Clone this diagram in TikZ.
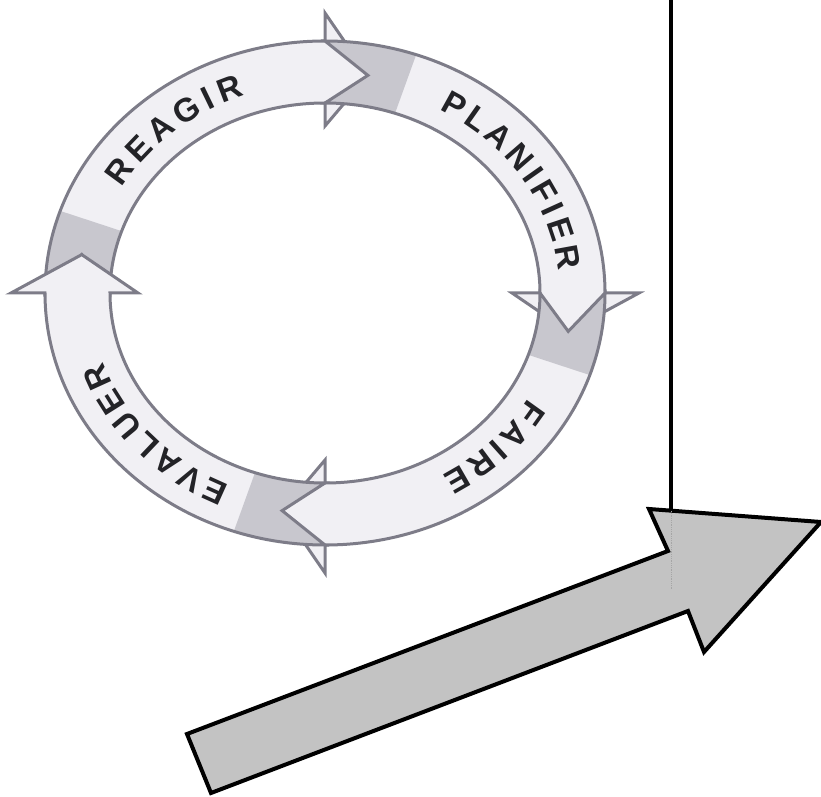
\documentclass[tikz,border=0pt]{standalone}
\usepackage{fontspec}
\setmainfont{Liberation Sans}
\usetikzlibrary{calc,decorations.text}
\definecolor{RingFill}{HTML}{F1F0F4}
\definecolor{RingShade}{HTML}{C8C7CE}
\definecolor{RingLine}{HTML}{7D7C88}
\definecolor{WordInk}{HTML}{232327}
\definecolor{TrendFill}{HTML}{C3C3C3}
% one curved arrow of the cycle, tail at angle #1, head 90 degrees further clockwise
\newcommand\cyclearrow[1]{($(c)+(#1:280pt and 252pt)$) arc[start angle=#1,end angle=#1-90,x radius=280pt,y radius=252pt]
  -- ($(c)+(#1-90:314pt and 280pt)$) -- ($(c)+(#1-100:247pt and 221pt)$) -- ($(c)+(#1-90:187pt and 167pt)$)
  -- ($(c)+(#1-90:215pt and 190pt)$) arc[start angle=#1-90,end angle=#1,x radius=215pt,y radius=190pt]
  -- ($(c)+(#1-10:247pt and 221pt)$) -- cycle}
\newcommand\cycletail[1]{($(c)+(#1:280pt and 252pt)$) arc[start angle=#1,end angle=#1-19,x radius=280pt,y radius=252pt]
  -- ($(c)+(#1-19:215pt and 190pt)$) arc[start angle=#1-19,end angle=#1,x radius=215pt,y radius=190pt]
  -- ($(c)+(#1-10:247pt and 221pt)$) -- cycle}
\tikzset{
  ringword/.style={decorate,decoration={text along path,text align=fit to path,
    text={|\fontsize{33}{33}\selectfont\bfseries\color{WordInk}|#1}}}
}

\begin{document}
\begin{tikzpicture}[x=1pt,y=1pt]
\useasboundingbox (0,0) rectangle (821,796);
\coordinate (c) at (325,503);
\foreach \a in {180,90,0,-90}{
  \fill[RingFill] \cyclearrow{\a};
  \fill[RingShade] \cycletail{\a};
  \draw[RingLine,line width=3pt] \cyclearrow{\a};
}
\path[ringword=REAGIR] ($(c)+(150:235pt and 210pt)$) arc[start angle=150,end angle=110,x radius=235pt,y radius=210pt];
\path[ringword=PLANIFIER] ($(c)+(61:235pt and 210pt)$) arc[start angle=61,end angle=6,x radius=235pt,y radius=210pt];
\path[ringword=FAIRE] ($(c)+(-30:235pt and 210pt)$) arc[start angle=-30,end angle=-60,x radius=235pt,y radius=210pt];
\path[ringword=EVALUER] ($(c)+(246:235pt and 210pt)$) arc[start angle=246,end angle=199,x radius=235pt,y radius=210pt];

\coordinate (top) at (671,796);
\coordinate (foot) at (671,285);
\draw[line width=4pt] (top) -- (foot);
\filldraw[fill=TrendFill,line width=4pt,line join=miter] (187,62) -- (668,245) -- (649,287) -- (821,274)
  -- (704,144) -- (688,185) -- (211,3) -- cycle;
\draw[gray!70,densely dotted,line width=0.8pt] (foot) -- (671,206);
\end{tikzpicture}
\end{document}
